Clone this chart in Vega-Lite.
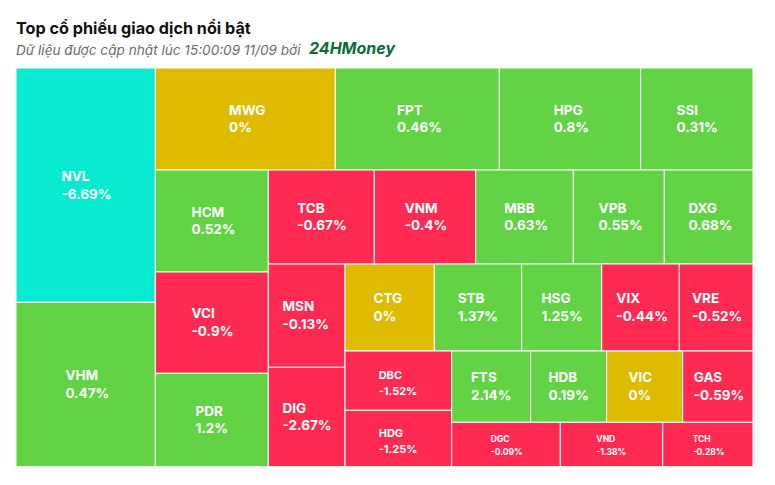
{
  "$schema": "https://vega.github.io/schema/vega-lite/v6.json",
  "width": 737,
  "height": 399,
  "autosize": {"type": "none"},
  "padding": {"left": 16, "top": 68, "right": 22, "bottom": 18},
  "background": "#ffffff",
  "config": {"view": {"stroke": null}},
  "title": {
    "text": "Top cổ phiếu giao dịch nổi bật",
    "subtitle": "Dữ liệu được cập nhật lúc 15:00:09 11/09 bởi",
    "anchor": "start",
    "frame": "group",
    "font": "Inter",
    "fontSize": 16.2,
    "fontWeight": "bold",
    "color": "#111111",
    "subtitleFont": "Inter",
    "subtitleFontSize": 13.6,
    "subtitleFontStyle": "italic",
    "subtitleColor": "#6b6b6b",
    "subtitlePadding": 7,
    "offset": -17
  },
  "layer": [
    {
      "data": {
        "values": [
          {"sym": "NVL", "pct": -6.69, "x0": 0, "x1": 139.3, "y0": 0, "y1": 234.3},
          {"sym": "VHM", "pct": 0.47, "x0": 0, "x1": 139.3, "y0": 234.3, "y1": 398.7},
          {"sym": "MWG", "pct": 0, "x0": 139.3, "x1": 319.3, "y0": 0, "y1": 102},
          {"sym": "FPT", "pct": 0.46, "x0": 319.3, "x1": 483.3, "y0": 0, "y1": 102},
          {"sym": "HPG", "pct": 0.8, "x0": 483.3, "x1": 624.7, "y0": 0, "y1": 102},
          {"sym": "SSI", "pct": 0.31, "x0": 624.7, "x1": 737, "y0": 0, "y1": 102},
          {"sym": "HCM", "pct": 0.52, "x0": 139.3, "x1": 252.3, "y0": 102, "y1": 204},
          {"sym": "VCI", "pct": -0.9, "x0": 139.3, "x1": 252.3, "y0": 204, "y1": 305.3},
          {"sym": "PDR", "pct": 1.2, "x0": 139.3, "x1": 252.3, "y0": 305.3, "y1": 398.7},
          {"sym": "TCB", "pct": -0.67, "x0": 252.3, "x1": 358.3, "y0": 102, "y1": 196},
          {"sym": "VNM", "pct": -0.4, "x0": 358.3, "x1": 459.7, "y0": 102, "y1": 196},
          {"sym": "MBB", "pct": 0.63, "x0": 459.7, "x1": 557.3, "y0": 102, "y1": 196},
          {"sym": "VPB", "pct": 0.55, "x0": 557.3, "x1": 648.3, "y0": 102, "y1": 196},
          {"sym": "DXG", "pct": 0.68, "x0": 648.3, "x1": 737, "y0": 102, "y1": 196},
          {"sym": "MSN", "pct": -0.13, "x0": 252.3, "x1": 329, "y0": 196, "y1": 299.3},
          {"sym": "DIG", "pct": -2.67, "x0": 252.3, "x1": 329, "y0": 299.3, "y1": 398.7},
          {"sym": "CTG", "pct": 0, "x0": 329, "x1": 418.3, "y0": 196, "y1": 283},
          {"sym": "STB", "pct": 1.37, "x0": 418.3, "x1": 505.7, "y0": 196, "y1": 283},
          {"sym": "HSG", "pct": 1.25, "x0": 505.7, "x1": 585.7, "y0": 196, "y1": 283},
          {"sym": "VIX", "pct": -0.44, "x0": 585.7, "x1": 663.3, "y0": 196, "y1": 283},
          {"sym": "VRE", "pct": -0.52, "x0": 663.3, "x1": 737, "y0": 196, "y1": 283},
          {"sym": "DBC", "pct": -1.52, "x0": 329, "x1": 435.7, "y0": 283, "y1": 342.3},
          {"sym": "HDG", "pct": -1.25, "x0": 329, "x1": 435.7, "y0": 342.3, "y1": 398.7},
          {"sym": "FTS", "pct": 2.14, "x0": 435.7, "x1": 514.7, "y0": 283, "y1": 354.3},
          {"sym": "HDB", "pct": 0.19, "x0": 514.7, "x1": 590.7, "y0": 283, "y1": 354.3},
          {"sym": "VIC", "pct": 0, "x0": 590.7, "x1": 666.7, "y0": 283, "y1": 354.3},
          {"sym": "GAS", "pct": -0.59, "x0": 666.7, "x1": 737, "y0": 283, "y1": 354.3},
          {"sym": "DGC", "pct": -0.09, "x0": 435.7, "x1": 544.3, "y0": 354.3, "y1": 398.7},
          {"sym": "VND", "pct": -1.38, "x0": 544.3, "x1": 646.7, "y0": 354.3, "y1": 398.7},
          {"sym": "TCH", "pct": -0.28, "x0": 646.7, "x1": 737, "y0": 354.3, "y1": 398.7}
        ]
      },
      "transform": [
        {"calculate": "(datum.x0 + datum.x1) / 2", "as": "xc"},
        {"calculate": "(datum.y0 + datum.y1) / 2", "as": "yc"},
        {"calculate": "datum.y1 - datum.y0", "as": "h"},
        {"calculate": "toString(datum.pct) + '%'", "as": "pl"},
        {"calculate": "datum.h < 50 ? 8.5 : datum.h < 65 ? 11 : 13.5", "as": "fs"},
        {"calculate": "max(length(datum.sym) * 0.8, length(datum.pl) * 0.58 + 0.1) * datum.fs", "as": "bw"},
        {"calculate": "datum.xc - datum.bw / 2", "as": "lx"},
        {"calculate": "[datum.sym, datum.pl]", "as": "lab"}
      ],
      "layer": [
        {
          "mark": {"type": "rect", "stroke": "#ffffff", "strokeWidth": 1},
          "encoding": {
            "x": {"field": "x0", "type": "quantitative", "scale": {"domain": [0, 737], "nice": false, "zero": false}, "axis": null},
            "x2": {"field": "x1"},
            "y": {"field": "y0", "type": "quantitative", "scale": {"domain": [0, 399], "nice": false, "zero": false, "reverse": true}, "axis": null},
            "y2": {"field": "y1"},
            "color": {
              "field": "pct",
              "type": "quantitative",
              "scale": {"type": "threshold", "domain": [-6.5, -0.0001, 0.0001], "range": ["#08EBD0", "#FF2A51", "#DFBB00", "#62D345"]},
              "legend": null
            }
          }
        },
        {
          "transform": [{"filter": "datum.h >= 65"}],
          "mark": {"type": "text", "align": "left", "baseline": "alphabetic", "font": "Inter", "fontWeight": "bold", "fontSize": 13.5, "lineHeight": 17.7, "dy": -4.3, "color": "#ffffff"},
          "encoding": {
            "x": {"field": "lx", "type": "quantitative"},
            "y": {"field": "yc", "type": "quantitative"},
            "text": {"field": "lab"}
          }
        },
        {
          "transform": [{"filter": "datum.h >= 50 && datum.h < 65"}],
          "mark": {"type": "text", "align": "left", "baseline": "alphabetic", "font": "Inter", "fontWeight": "bold", "fontSize": 11, "lineHeight": 16, "dy": -2, "color": "#ffffff"},
          "encoding": {
            "x": {"field": "lx", "type": "quantitative"},
            "y": {"field": "yc", "type": "quantitative"},
            "text": {"field": "lab"}
          }
        },
        {
          "transform": [{"filter": "datum.h < 50"}],
          "mark": {"type": "text", "align": "left", "baseline": "alphabetic", "font": "Inter", "fontWeight": "bold", "fontSize": 8.5, "lineHeight": 12.7, "dy": -2.2, "color": "#ffffff"},
          "encoding": {
            "x": {"field": "lx", "type": "quantitative"},
            "y": {"field": "yc", "type": "quantitative"},
            "text": {"field": "lab"}
          }
        }
      ]
    },
    {
      "data": {"values": [{"brand": "24HMoney", "bx": 293, "by": -14}]},
      "mark": {"type": "text", "align": "left", "baseline": "alphabetic", "font": "Inter", "fontWeight": "bold", "fontStyle": "italic", "fontSize": 16, "color": "#0B6B3B"},
      "encoding": {
        "x": {"field": "bx", "type": "quantitative"},
        "y": {"field": "by", "type": "quantitative"},
        "text": {"field": "brand"}
      }
    }
  ]
}
